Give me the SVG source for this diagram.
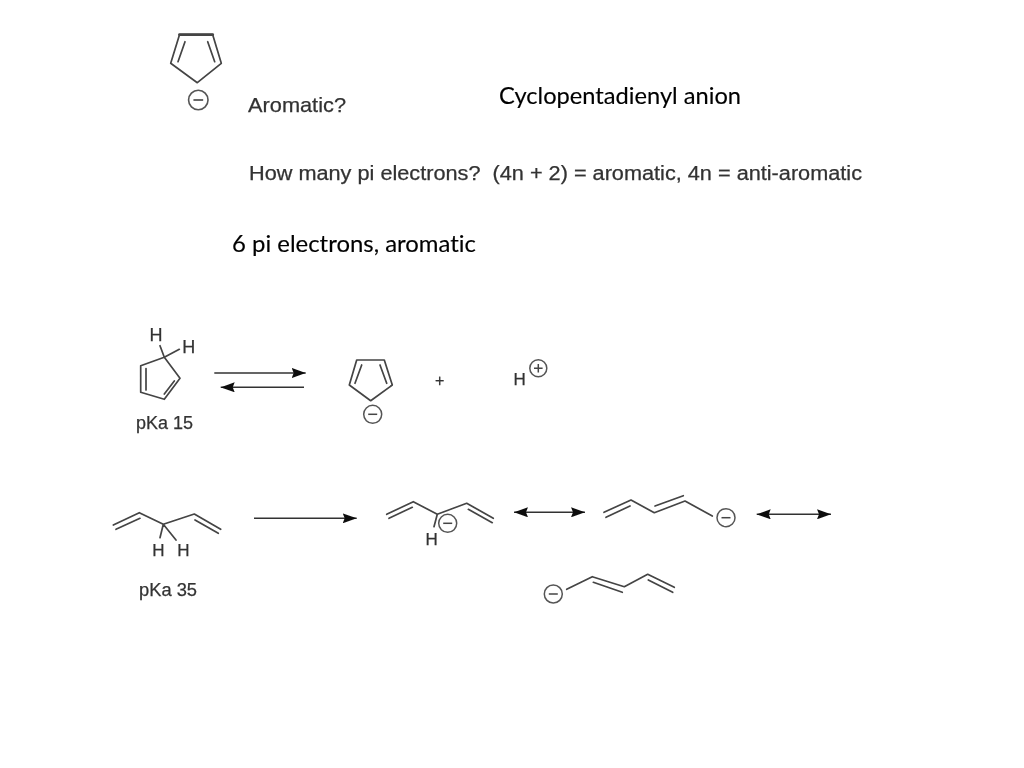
<svg xmlns="http://www.w3.org/2000/svg" width="1024" height="768" viewBox="0 0 1024 768">
<style>
.b{fill:none;stroke:#444;stroke-width:1.7;stroke-linejoin:round;stroke-linecap:round}
.c{fill:none;stroke:#555;stroke-width:1.5}
.s{fill:none;stroke:#444;stroke-width:1.5}
.a{stroke:#333;stroke-width:1.6;fill:none}
.t{font-family:"Liberation Sans",Arial,sans-serif;fill:#333;stroke:#333;stroke-width:0.25}
.l{font-family:Lato,"Open Sans",sans-serif;fill:#000;font-size:24px;font-variant-ligatures:none;stroke:#000;stroke-width:0.15}
.soft{filter:url(#soft)}
</style>
<defs>
<filter id="soft" x="-5%" y="-5%" width="110%" height="110%"><feGaussianBlur stdDeviation="0.45"/></filter>
<marker id="e" viewBox="0 0 14 10" refX="14" refY="5" markerWidth="14" markerHeight="10" markerUnits="userSpaceOnUse" orient="auto-start-reverse"><path d="M0 0L14 5L0 10L2 5Z" fill="#111"/></marker>
<g id="minus"><circle r="9" class="c"/><path d="M-4.5 0H4.5" class="s"/></g>
</defs>
<g class="soft">
<g id="ring-top">
<path class="b" d="M179.5 34.7H212.7L221.3 63.3L197.3 82.7L170.7 63.3Z"/>
<path class="b" d="M179.5 34.7H212.7" style="stroke-width:2.8"/>
<path class="b" d="M185 41.7L178 61.7M207.7 41.7L214.7 61.7"/>
<use href="#minus" transform="translate(198.3 100) scale(1.08)"/>
</g>
<g id="label-aromatic"><text class="t" x="248" y="112" font-size="21" textLength="98" lengthAdjust="spacingAndGlyphs">Aromatic?</text></g>
<g id="label-question"><text class="t" x="249" y="180" font-size="19.5" xml:space="preserve" textLength="613" lengthAdjust="spacingAndGlyphs">How many pi electrons?  (4n + 2) = aromatic, 4n = anti-aromatic</text></g>
<g id="ring-ch2">
<path class="b" d="M164.3 357.3L180 378.3L164.3 399.3L140.7 392.3V365.7Z"/>
<path class="b" d="M146 368.5V390M174.3 381L164.3 394M164.3 357.3L160 345.7M164.3 357.3L179.3 349.3"/>
<text class="t" x="156" y="341" font-size="18" text-anchor="middle">H</text>
<text class="t" x="188.7" y="353" font-size="18" text-anchor="middle">H</text>
<text class="t" x="136" y="429" font-size="17.5" textLength="57" lengthAdjust="spacingAndGlyphs">pKa 15</text>
</g>
<g id="ring-anion">
<path class="b" d="M356.7 360H384.3L392.3 385L370.7 400.7L349.3 385Z"/>
<path class="b" d="M361.7 365L355 383.3M380 365L386.7 383.3"/>
<use href="#minus" transform="translate(372.7 414.3)"/>
</g>
<g id="plus"><text class="t" x="439.7" y="386" font-size="16" text-anchor="middle">+</text></g>
<g id="proton">
<text class="t" x="513.5" y="385" font-size="17">H</text>
<circle cx="538.3" cy="368.3" r="8.5" class="c"/><path class="s" d="M534 368.3H542.6M538.3 364V372.6"/>
</g>
<g id="pentadiene">
<path class="b" d="M113.3 525L139.3 512.7L163.3 524.3L194.3 514L220.7 529.3M116 529.3L140 518.3M195 520L218.3 533.3M163.3 524.3L160 537.7M163.3 524.3L176 540"/>
<text class="t" x="158.3" y="556" font-size="17" text-anchor="middle">H</text>
<text class="t" x="183.3" y="556" font-size="17" text-anchor="middle">H</text>
<text class="t" x="139" y="596" font-size="17.5" textLength="58" lengthAdjust="spacingAndGlyphs">pKa 35</text>
</g>
<g id="anion-a">
<path class="b" d="M386.7 514.3L413.3 501.7L437.3 514.3L466.7 503.3L493.3 518.3M389 518.3L412.3 507.3M468.3 509.3L492.3 522.7M437.3 514.3L434 526.7"/>
<use href="#minus" transform="translate(447.7 523.3)"/>
<text class="t" x="431.7" y="545" font-size="17" text-anchor="middle">H</text>
</g>
<g id="anion-b">
<path class="b" d="M604 512.3L631 500L654.3 512.7L685 501L712.3 516M606 517.3L630 506M655 506L683.3 495.7"/>
<use href="#minus" transform="translate(726 517.7)"/>
</g>
<g id="anion-c">
<path class="b" d="M566.7 589.3L592.3 576.7L624.3 586.7L647.7 574.3L674.3 587.3M593.3 582.3L622.3 592.3M648.3 580L672.7 592.3"/>
<use href="#minus" transform="translate(553.3 594)"/>
</g>
<g id="connectors">
<path class="a" d="M214.3 373H305.7" marker-end="url(#e)"/>
<path class="a" d="M304 387.3H220.7" marker-end="url(#e)"/>
<path class="a" d="M254 518.3H356.7" marker-end="url(#e)"/>
<path class="a" d="M514 512.3H585" marker-start="url(#e)" marker-end="url(#e)"/>
<path class="a" d="M756.7 514.3H831" marker-start="url(#e)" marker-end="url(#e)"/>
</g>
</g>
<g id="label-title"><text class="l" x="499" y="104" textLength="242" lengthAdjust="spacingAndGlyphs">Cyclopentadienyl anion</text></g>
<g id="label-answer"><text class="l" x="232" y="252" textLength="244" lengthAdjust="spacingAndGlyphs">6 pi electrons, aromatic</text></g>
</svg>
